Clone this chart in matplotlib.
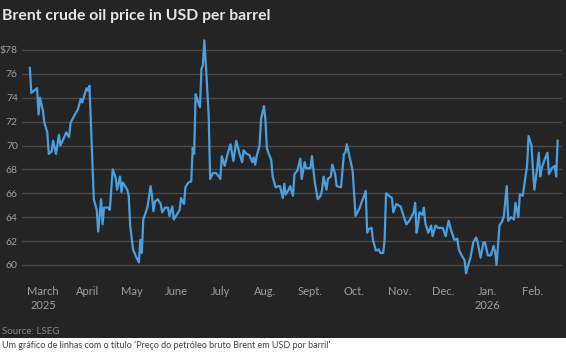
import matplotlib
matplotlib.use("Agg")
import matplotlib.pyplot as plt
import pandas as pd
from matplotlib.patches import Rectangle

# Brent daily values
dates = [
    "2025-02-20", "2025-02-21", "2025-02-23", "2025-02-25", "2025-02-26", "2025-02-27",
    "2025-03-01", "2025-03-02", "2025-03-04", "2025-03-05", "2025-03-07", "2025-03-08",
    "2025-03-10", "2025-03-12", "2025-03-13", "2025-03-16", "2025-03-17", "2025-03-19",
    "2025-03-20", "2025-03-23", "2025-03-25", "2025-03-27", "2025-03-28", "2025-03-30",
    "2025-03-31", "2025-04-01", "2025-04-02", "2025-04-05", "2025-04-07", "2025-04-08",
    "2025-04-10", "2025-04-11", "2025-04-12", "2025-04-15", "2025-04-16", "2025-04-18",
    "2025-04-20", "2025-04-21", "2025-04-23", "2025-04-24", "2025-04-25", "2025-04-28",
    "2025-04-29", "2025-04-30", "2025-05-02", "2025-05-04", "2025-05-06", "2025-05-07",
    "2025-05-08", "2025-05-09", "2025-05-11", "2025-05-12", "2025-05-14", "2025-05-15",
    "2025-05-16", "2025-05-17", "2025-05-19", "2025-05-21", "2025-05-22", "2025-05-24",
    "2025-05-26", "2025-05-27", "2025-05-29", "2025-05-30", "2025-06-01", "2025-06-03",
    "2025-06-04", "2025-06-06", "2025-06-07", "2025-06-09", "2025-06-11", "2025-06-12",
    "2025-06-13", "2025-06-14", "2025-06-15", "2025-06-17", "2025-06-18", "2025-06-19",
    "2025-06-20", "2025-06-21", "2025-06-23", "2025-06-24", "2025-06-26", "2025-06-28",
    "2025-06-30", "2025-07-01", "2025-07-02", "2025-07-04", "2025-07-06", "2025-07-08",
    "2025-07-10", "2025-07-12", "2025-07-14", "2025-07-16", "2025-07-17", "2025-07-19",
    "2025-07-21", "2025-07-23", "2025-07-24", "2025-07-25", "2025-07-26", "2025-07-28",
    "2025-07-29", "2025-07-31", "2025-08-01", "2025-08-02", "2025-08-03", "2025-08-05",
    "2025-08-06", "2025-08-08", "2025-08-10", "2025-08-11", "2025-08-13", "2025-08-14",
    "2025-08-15", "2025-08-17", "2025-08-18", "2025-08-20", "2025-08-21", "2025-08-23",
    "2025-08-25", "2025-08-26", "2025-08-28", "2025-08-29", "2025-09-01", "2025-09-02",
    "2025-09-04", "2025-09-06", "2025-09-08", "2025-09-09", "2025-09-10", "2025-09-12",
    "2025-09-13", "2025-09-15", "2025-09-16", "2025-09-18", "2025-09-19", "2025-09-22",
    "2025-09-24", "2025-09-25", "2025-09-26", "2025-09-28", "2025-09-30", "2025-10-02",
    "2025-10-05", "2025-10-06", "2025-10-07", "2025-10-09", "2025-10-10", "2025-10-11",
    "2025-10-13", "2025-10-14", "2025-10-16", "2025-10-18", "2025-10-19", "2025-10-21",
    "2025-10-22", "2025-10-23", "2025-10-25", "2025-10-27", "2025-10-28", "2025-10-30",
    "2025-11-02", "2025-11-03", "2025-11-06", "2025-11-08", "2025-11-11", "2025-11-12",
    "2025-11-13", "2025-11-14", "2025-11-15", "2025-11-17", "2025-11-18", "2025-11-19",
    "2025-11-21", "2025-11-23", "2025-11-24", "2025-11-26", "2025-11-28", "2025-12-01",
    "2025-12-03", "2025-12-05", "2025-12-07", "2025-12-09", "2025-12-11", "2025-12-12",
    "2025-12-14", "2025-12-16", "2025-12-17", "2025-12-18", "2025-12-20", "2025-12-22",
    "2025-12-24", "2025-12-25", "2025-12-27", "2025-12-29", "2025-12-30", "2026-01-01",
    "2026-01-03", "2026-01-05", "2026-01-06", "2026-01-07", "2026-01-09", "2026-01-11",
    "2026-01-12", "2026-01-14", "2026-01-15", "2026-01-17", "2026-01-19", "2026-01-20",
    "2026-01-22", "2026-01-23", "2026-01-25", "2026-01-28", "2026-01-29", "2026-01-31",
    "2026-02-01", "2026-02-02", "2026-02-04", "2026-02-05", "2026-02-06", "2026-02-07",
    "2026-02-09", "2026-02-11", "2026-02-12", "2026-02-14", "2026-02-16", "2026-02-17",
    "2026-02-18",
]
prices = [
    76.5, 74.4, 74.6, 74.8, 72.6, 74.0,
    72.9, 71.9, 71.1, 69.3, 69.5, 70.4,
    69.3, 70.9, 70.0, 70.8, 71.1, 70.7,
    71.9, 72.6, 73.0, 73.9, 73.6, 74.4,
    74.8, 74.6, 75.0, 65.5, 64.6, 62.8,
    65.5, 63.4, 64.8, 64.8, 64.6, 68.0,
    67.3, 66.3, 67.4, 66.1, 66.9, 66.3,
    65.8, 63.3, 61.3, 60.7, 60.2, 62.1,
    61.0, 63.8, 64.5, 64.9, 66.6, 65.8,
    64.5, 65.3, 65.5, 65.1, 64.4, 64.8,
    64.8, 64.1, 64.9, 63.8, 64.2, 64.6,
    65.6, 65.1, 66.5, 66.9, 67.0, 69.8,
    69.3, 74.3, 73.9, 73.2, 76.4, 76.7,
    78.8, 76.9, 72.5, 67.2, 67.7, 67.7,
    67.4, 67.2, 69.1, 68.3, 69.3, 70.1,
    68.7, 70.4, 69.4, 68.6, 69.6, 69.3,
    69.2, 68.6, 69.0, 68.4, 69.1, 70.0,
    72.2, 73.3, 72.2, 69.8, 69.4, 68.8,
    67.4, 66.5, 66.6, 66.6, 65.6, 66.8,
    65.9, 66.3, 66.6, 65.8, 67.6, 67.9,
    68.9, 67.2, 68.6, 68.1, 68.1, 69.1,
    66.9, 65.5, 65.8, 66.3, 67.4, 66.3,
    67.2, 67.4, 68.4, 67.6, 66.6, 66.5,
    69.3, 69.4, 70.1, 69.0, 67.9, 64.1,
    64.8, 65.2, 65.5, 66.2, 62.7, 63.0,
    63.1, 62.1, 61.2, 61.3, 61.0, 61.0,
    62.1, 66.0, 65.8, 65.6, 64.4, 65.1,
    64.9, 64.5, 63.4, 63.7, 64.4, 65.2,
    62.7, 63.4, 64.4, 64.2, 64.8, 63.5,
    62.7, 63.3, 62.4, 63.3, 63.1, 63.1,
    62.4, 63.7, 62.8, 62.1, 62.2, 61.3,
    60.8, 60.4, 59.3, 59.8, 60.6, 61.9,
    62.3, 61.9, 60.6, 61.9, 61.9, 60.8,
    60.8, 61.6, 61.1, 60.0, 63.3, 63.7,
    64.1, 66.6, 63.7, 64.0, 63.8, 65.2,
    64.0, 65.9, 65.8, 68.3, 70.8, 70.0,
    68.0, 66.3, 68.2, 69.4, 67.4, 68.1,
    68.8, 69.4, 67.6, 68.1, 68.3, 67.4,
    70.4,
]

month_ticks = ["2025-03-01", "2025-04-01", "2025-05-01", "2025-06-01", "2025-07-01",
               "2025-08-01", "2025-09-01", "2025-10-01", "2025-11-01", "2025-12-01",
               "2026-01-01", "2026-02-01"]
month_labels = ["March\n2025", "April", "May", "June", "July", "Aug.", "Sept.",
                "Oct.", "Nov.", "Dec.", "Jan.\n2026", "Feb."]
y_ticks = [60, 62, 64, 66, 68, 70, 72, 74, 76, 78]
y_labels = ["60", "62", "64", "66", "68", "70", "72", "74", "76", "$78"]

bg = "#242424"
grid_c = "#4a4a4a"
tick_c = "#a0a0a0"
line_c = "#4a9fe0"

plt.rcParams["font.family"] = ["Lato", "DejaVu Sans"]

fig = plt.figure(figsize=(5.66, 3.53), dpi=100, facecolor="white")
fig.patches.append(Rectangle((0, 15 / 353), 1, 1, transform=fig.transFigure,
                             facecolor=bg, edgecolor="none", zorder=-10))

ax = fig.add_axes([22 / 566, 1 - 280 / 353, 540 / 566, 242 / 353])
ax.set_facecolor(bg)

x = pd.to_datetime(dates)
ax.plot(x, prices, color=line_c, lw=1.6, solid_joinstyle="round", zorder=3)

start = pd.Timestamp("2025-03-01")
ax.set_xlim(start - pd.Timedelta(days=14.4), start + pd.Timedelta(days=357))
ax.set_ylim(58.74, 79.0)

ax.set_yticks(y_ticks)
ax.set_yticklabels(y_labels)
ax.set_xticks(pd.to_datetime(month_ticks))
ax.set_xticklabels(month_labels, linespacing=1.35)

ax.grid(axis="y", color=grid_c, lw=1.0)
ax.set_axisbelow(True)
for s in ax.spines.values():
    s.set_visible(False)
ax.tick_params(axis="both", length=0, colors=tick_c, labelsize=8)
ax.tick_params(axis="y", pad=3, labelsize=7.5)
ax.tick_params(axis="x", pad=4)

fig.text(2 / 566, 1 - 16 / 353, "Brent crude oil price in USD per barrel",
         color="#e6e6e6", fontsize=11.3, fontweight="bold", va="center", ha="left")
fig.text(2 / 566, 1 - 331 / 353, "Source: LSEG", color="#8a8a8a",
         fontsize=7, va="center", ha="left")
fig.text(2 / 566, 1 - 346 / 353,
         "Um gráfico de linhas com o título 'Preço do petróleo bruto Brent em USD por barril'",
         color="#404040", fontsize=6.5, va="center", ha="left")

fig.savefig("out.png", dpi=100, facecolor=fig.get_facecolor())
